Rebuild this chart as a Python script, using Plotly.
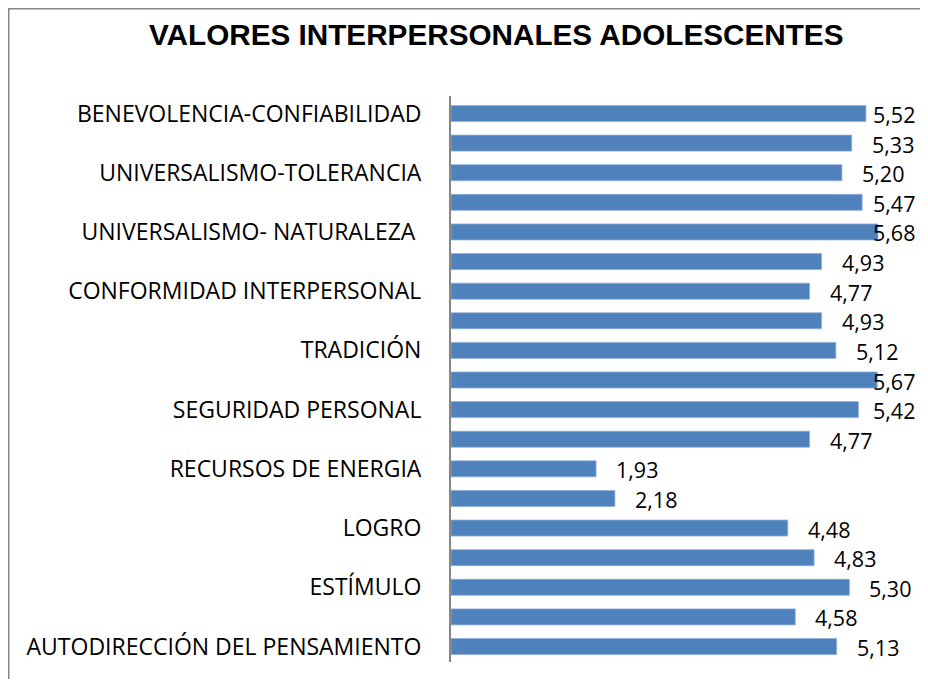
import plotly.graph_objects as go

categories = [
    "BENEVOLENCIA-CONFIABILIDAD",
    "BENEVOLENCIA-CUIDADO",
    "UNIVERSALISMO-TOLERANCIA",
    "UNIVERSALISMO-PREOCUPACIÓN",
    "UNIVERSALISMO- NATURALEZA ",
    "HUMILDAD",
    "CONFORMIDAD INTERPERSONAL",
    "CONFORMIDAD-REGLAS",
    "TRADICIÓN",
    "SEGURIDAD SOCIAL",
    "SEGURIDAD PERSONAL",
    "IMAGEN PÚBLICA",
    "RECURSOS DE ENERGIA",
    "PODER-DOMINANCIA",
    "LOGRO",
    "HEDONISMO",
    "ESTÍMULO",
    "AUTODIRECCIÓN DE LA ACCIÓN",
    "AUTODIRECCIÓN DEL PENSAMIENTO",
]
values = [5.52, 5.33, 5.20, 5.47, 5.68, 4.93, 4.77, 4.93, 5.12, 5.67,
          5.42, 4.77, 1.93, 2.18, 4.48, 4.83, 5.30, 4.58, 5.13]
shown_labels = categories[0::2]

# page has an 8px body margin on every side, so the figure fits in 912x671
W, H = 912, 671
ML, MR, MT, MB = 443, 18, 88, 17
PW, PH = W - ML - MR, H - MT - MB
XMAX = 6.0
px_per_unit = PW / XMAX
LABEL_W = 43
RIGHT_LIMIT = 906

FONT = "Open Sans, Lato, sans-serif"

fig = go.Figure()
fig.add_trace(go.Bar(
    x=values, y=categories, orientation="h",
    marker=dict(color="#4F81BD", line=dict(color="#8DAEDB", width=0.8)),
    width=0.54,
    hoverinfo="x+y",
))

for c, v in zip(categories, values):
    xpix = ML + v * px_per_unit
    shift = min(18, RIGHT_LIMIT - LABEL_W - xpix)
    fig.add_annotation(
        x=v, y=c, xref="x", yref="y", text=f"{v:.2f}".replace(".", ","),
        showarrow=False, xanchor="left", yanchor="middle",
        xshift=shift, yshift=-1,
        font=dict(family=FONT, size=21.5, color="#000000"),
    )

fig.add_annotation(
    x=(488 - ML) / PW, y=(H - MB - 27) / PH,
    xref="paper", yref="paper", text="<b>VALORES INTERPERSONALES ADOLESCENTES</b>",
    showarrow=False, xanchor="center", yanchor="middle",
    font=dict(family="Liberation Sans, Arial, sans-serif", size=29.7, color="#000000"),
)

# outer chart border (top and left visible)
fig.add_shape(type="rect", xref="paper", yref="paper",
              x0=(0.75 - ML) / PW, x1=(940 - ML) / PW,
              y0=(H - MB - 700) / PH, y1=(H - MB - 0.75) / PH,
              line=dict(color="#868686", width=1.5), layer="below")

fig.update_layout(
    width=W, height=H,
    margin=dict(l=ML, r=MR, t=MT, b=MB),
    paper_bgcolor="white", plot_bgcolor="white",
    showlegend=False,
    bargap=0.46,
    xaxis=dict(range=[0, XMAX], visible=False, showgrid=False, zeroline=False),
    yaxis=dict(
        autorange="reversed",
        tickmode="array", tickvals=shown_labels, ticktext=shown_labels,
        showline=True, linecolor="#868686", linewidth=2,
        ticks="", showgrid=False, zeroline=False,
        ticklabelstandoff=23,
        tickfont=dict(family=FONT, size=23, color="#000000"),
    ),
)

fig.write_html("out.html")
